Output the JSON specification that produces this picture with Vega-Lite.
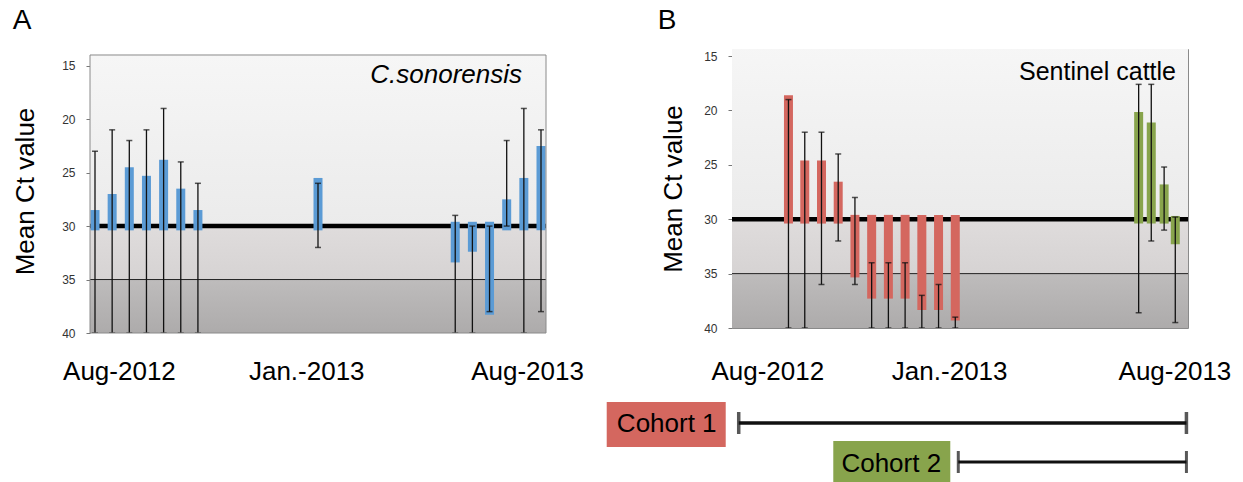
{
  "$schema": "https://vega.github.io/schema/vega-lite/v6.json",
  "padding": {"left": 12, "top": 6, "right": 0, "bottom": 0},
  "spacing": 22,
  "align": "none",
  "config": {
    "font": "Liberation Sans",
    "view": {"stroke": "#8a8a8a", "strokeWidth": 1},
    "axis": {"grid": false, "domain": false},
    "title": {"fontSize": 28, "fontWeight": "normal", "anchor": "start", "frame": "bounds", "color": "#000"}
  },
  "datasets": {
    "csonorensis": [
      {"week": 0, "ct": 28.5, "base": 30.4, "lo": 23, "hi": 40},
      {"week": 2, "ct": 27.0, "base": 30.4, "lo": 21, "hi": 40},
      {"week": 4, "ct": 24.5, "base": 30.4, "lo": 22, "hi": 40},
      {"week": 6, "ct": 25.3, "base": 30.4, "lo": 21, "hi": 40},
      {"week": 8, "ct": 23.8, "base": 30.4, "lo": 19, "hi": 40},
      {"week": 10, "ct": 26.5, "base": 30.4, "lo": 24, "hi": 40},
      {"week": 12, "ct": 28.5, "base": 30.4, "lo": 26, "hi": 40},
      {"week": 26, "ct": 25.5, "base": 30.4, "lo": 26, "hi": 32},
      {"week": 42, "ct": 33.4, "base": 29.6, "lo": 29, "hi": 40},
      {"week": 44, "ct": 32.4, "base": 29.6, "lo": 30, "hi": 40},
      {"week": 46, "ct": 38.3, "base": 29.6, "lo": 30, "hi": 38},
      {"week": 48, "ct": 27.5, "base": 30.4, "lo": 22, "hi": 30},
      {"week": 50, "ct": 25.5, "base": 30.4, "lo": 19, "hi": 40},
      {"week": 52, "ct": 22.5, "base": 30.4, "lo": 21, "hi": 38}
    ],
    "cattle": [
      {"week": 6.0, "ct": 18.6, "base": 30.4, "lo": 19, "hi": 40, "cohort": "Cohort 1"},
      {"week": 7.9, "ct": 24.6, "base": 30.4, "lo": 22, "hi": 40, "cohort": "Cohort 1"},
      {"week": 9.85, "ct": 24.6, "base": 30.4, "lo": 22, "hi": 36, "cohort": "Cohort 1"},
      {"week": 11.8, "ct": 26.55, "base": 30.4, "lo": 24, "hi": 32, "cohort": "Cohort 1"},
      {"week": 13.75, "ct": 35.35, "base": 29.6, "lo": 28, "hi": 36, "cohort": "Cohort 1"},
      {"week": 15.7, "ct": 37.3, "base": 29.6, "lo": 34, "hi": 40, "cohort": "Cohort 1"},
      {"week": 17.65, "ct": 37.3, "base": 29.6, "lo": 34, "hi": 40, "cohort": "Cohort 1"},
      {"week": 19.6, "ct": 37.3, "base": 29.6, "lo": 34, "hi": 40, "cohort": "Cohort 1"},
      {"week": 21.55, "ct": 38.35, "base": 29.6, "lo": 37, "hi": 40, "cohort": "Cohort 1"},
      {"week": 23.5, "ct": 38.35, "base": 29.6, "lo": 36, "hi": 40, "cohort": "Cohort 1"},
      {"week": 25.45, "ct": 39.3, "base": 29.6, "lo": 39, "hi": 40, "cohort": "Cohort 1"},
      {"week": 46.83, "ct": 20.15, "base": 30.4, "lo": 17.6, "hi": 38.6, "cohort": "Cohort 2"},
      {"week": 48.3, "ct": 21.1, "base": 30.4, "lo": 17.6, "hi": 32, "cohort": "Cohort 2"},
      {"week": 49.8, "ct": 26.8, "base": 30.4, "lo": 25.2, "hi": 31, "cohort": "Cohort 2"},
      {"week": 51.1, "ct": 32.3, "base": 29.7, "lo": 29.8, "hi": 39.5, "cohort": "Cohort 2"}
    ],
    "zones": [
      {"zone": "negative", "lo": 14, "hi": 30},
      {"zone": "weak", "lo": 30, "hi": 35},
      {"zone": "strong", "lo": 35, "hi": 40}
    ],
    "cutoffs": [
      {"ct": 30, "kind": "main"},
      {"ct": 35, "kind": "secondary"}
    ],
    "cohorts": [
      {"cohort": "Cohort 1", "start": 0.2, "end": 52.4},
      {"cohort": "Cohort 2", "start": 25.8, "end": 52.4}
    ]
  },
  "hconcat": [
    {
      "width": 456,
      "height": 284,
      "view": {"stroke": null},
      "title": {"text": "A", "offset": 14},
      "layer": [
        {
          "data": {"name": "zones"},
          "transform": [{"filter": "datum.zone == 'negative'"}],
          "mark": {"type": "rect", "clip": true, "color": {"gradient": "linear", "x1": 0, "y1": 0, "x2": 0, "y2": 1, "stops": [{"offset": 0, "color": "#f6f6f6"}, {"offset": 1, "color": "#ebebeb"}]}},
          "encoding": {
            "y": {"field": "lo", "type": "quantitative", "scale": {"domain": [13.44, 40], "reverse": true, "nice": false, "zero": false},
              "axis": {"values": [15, 20, 25, 30, 35, 40], "title": "Mean Ct value", "titleFontSize": 26, "titleFontWeight": "normal", "titleColor": "#000", "titlePadding": 23, "labelFontSize": 12, "labelColor": "#333", "labelPadding": 11, "tickSize": 4, "tickColor": "#777"}},
            "y2": {"field": "hi"}
          }
        },
        {
          "data": {"name": "zones"},
          "transform": [{"filter": "datum.zone == 'weak'"}],
          "mark": {"type": "rect", "clip": true, "color": {"gradient": "linear", "x1": 0, "y1": 0, "x2": 0, "y2": 1, "stops": [{"offset": 0, "color": "#dfdcdc"}, {"offset": 1, "color": "#d6d3d3"}]}},
          "encoding": {"y": {"field": "lo", "type": "quantitative", "scale": {"domain": [13.44, 40], "reverse": true, "nice": false, "zero": false}}, "y2": {"field": "hi"}}
        },
        {
          "data": {"name": "zones"},
          "transform": [{"filter": "datum.zone == 'strong'"}],
          "mark": {"type": "rect", "clip": true, "color": {"gradient": "linear", "x1": 0, "y1": 0, "x2": 0, "y2": 1, "stops": [{"offset": 0, "color": "#bebcbc"}, {"offset": 1, "color": "#adabab"}]}},
          "encoding": {"y": {"field": "lo", "type": "quantitative", "scale": {"domain": [13.44, 40], "reverse": true, "nice": false, "zero": false}}, "y2": {"field": "hi"}}
        },
        {
          "data": {"name": "cutoffs"},
          "transform": [{"filter": "datum.kind == 'main'"}],
          "mark": {"type": "rule", "color": "#000", "strokeWidth": 4.5},
          "encoding": {"y": {"field": "ct", "type": "quantitative", "scale": {"domain": [13.44, 40], "reverse": true, "nice": false, "zero": false}}}
        },
        {
          "data": {"name": "cutoffs"},
          "transform": [{"filter": "datum.kind == 'secondary'"}],
          "mark": {"type": "rule", "color": "#222", "strokeWidth": 1},
          "encoding": {"y": {"field": "ct", "type": "quantitative", "scale": {"domain": [13.44, 40], "reverse": true, "nice": false, "zero": false}}}
        },
        {
          "data": {"name": "csonorensis"},
          "mark": {"type": "bar", "clip": true, "size": 9, "color": "#5b9bd5"},
          "encoding": {
            "x": {"field": "week", "type": "quantitative", "scale": {"domain": [0, 52], "nice": false, "zero": false},
              "axis": {"values": [2.79, 24.63, 50.37], "labelExpr": "datum.value < 10 ? 'Aug-2012' : datum.value < 40 ? 'Jan.-2013' : 'Aug-2013'", "ticks": false, "labelFontSize": 26, "labelColor": "#000", "labelPadding": 25, "title": null, "labelBound": false, "labelOverlap": false, "labelFlush": false}},
            "y": {"field": "ct", "type": "quantitative", "scale": {"domain": [13.44, 40], "reverse": true, "nice": false, "zero": false}},
            "y2": {"field": "base"}
          }
        },
        {
          "data": {"name": "csonorensis"},
          "mark": {"type": "rule", "clip": true, "color": "#111", "strokeWidth": 1.3},
          "encoding": {
            "x": {"field": "week", "type": "quantitative", "scale": {"domain": [0, 52], "nice": false, "zero": false}},
            "y": {"field": "lo", "type": "quantitative", "scale": {"domain": [13.44, 40], "reverse": true, "nice": false, "zero": false}},
            "y2": {"field": "hi"}
          }
        },
        {
          "data": {"name": "csonorensis"},
          "mark": {"type": "tick", "orient": "horizontal", "clip": true, "color": "#111", "size": 6, "thickness": 1.5},
          "encoding": {
            "x": {"field": "week", "type": "quantitative", "scale": {"domain": [0, 52], "nice": false, "zero": false}},
            "y": {"field": "lo", "type": "quantitative", "scale": {"domain": [13.44, 40], "reverse": true, "nice": false, "zero": false}}
          }
        },
        {
          "data": {"name": "csonorensis"},
          "mark": {"type": "tick", "orient": "horizontal", "clip": true, "color": "#111", "size": 6, "thickness": 1.5},
          "encoding": {
            "x": {"field": "week", "type": "quantitative", "scale": {"domain": [0, 52], "nice": false, "zero": false}},
            "y": {"field": "hi", "type": "quantitative", "scale": {"domain": [13.44, 40], "reverse": true, "nice": false, "zero": false}}
          }
        },
        {
          "data": {"name": "zones"},
          "transform": [{"aggregate": [{"op": "min", "field": "lo", "as": "top"}, {"op": "max", "field": "hi", "as": "bottom"}]}],
          "mark": {"type": "rect", "filled": false, "stroke": "#8a8a8a", "strokeWidth": 1},
          "encoding": {
            "y": {"field": "top", "type": "quantitative", "scale": {"domain": [13.44, 40], "reverse": true, "nice": false, "zero": false}},
            "y2": {"field": "bottom"}
          }
        },
        {
          "data": {"values": [{"species": "C.sonorensis"}]},
          "mark": {"type": "text", "align": "right", "baseline": "middle", "fontSize": 26, "fontStyle": "italic", "color": "#000", "dx": -19, "dy": 20},
          "encoding": {
            "text": {"field": "species"},
            "x": {"datum": 52, "type": "quantitative", "scale": {"domain": [0, 52], "nice": false, "zero": false}},
            "y": {"datum": 14, "type": "quantitative", "scale": {"domain": [13.44, 40], "reverse": true, "nice": false, "zero": false}}
          }
        }
      ]
    },
    {
      "width": 456,
      "height": 279,
      "title": {"text": "B", "offset": 14, "dx": 51},
      "layer": [
        {
          "data": {"name": "zones"},
          "transform": [{"filter": "datum.zone == 'negative'"}],
          "mark": {"type": "rect", "clip": true, "color": {"gradient": "linear", "x1": 0, "y1": 0, "x2": 0, "y2": 1, "stops": [{"offset": 0, "color": "#f6f6f6"}, {"offset": 1, "color": "#ebebeb"}]}},
          "encoding": {
            "y": {"field": "lo", "type": "quantitative", "scale": {"domain": [14.35, 40], "reverse": true, "nice": false, "zero": false},
              "axis": {"values": [15, 20, 25, 30, 35, 40], "title": "Mean Ct value", "titleFontSize": 26, "titleFontWeight": "normal", "titleColor": "#000", "titlePadding": 17, "labelFontSize": 12, "labelColor": "#333", "labelPadding": 11, "tickSize": 4, "tickColor": "#777"}},
            "y2": {"field": "hi"}
          }
        },
        {
          "data": {"name": "zones"},
          "transform": [{"filter": "datum.zone == 'weak'"}],
          "mark": {"type": "rect", "clip": true, "color": {"gradient": "linear", "x1": 0, "y1": 0, "x2": 0, "y2": 1, "stops": [{"offset": 0, "color": "#dfdcdc"}, {"offset": 1, "color": "#d6d3d3"}]}},
          "encoding": {"y": {"field": "lo", "type": "quantitative", "scale": {"domain": [14.35, 40], "reverse": true, "nice": false, "zero": false}}, "y2": {"field": "hi"}}
        },
        {
          "data": {"name": "zones"},
          "transform": [{"filter": "datum.zone == 'strong'"}],
          "mark": {"type": "rect", "clip": true, "color": {"gradient": "linear", "x1": 0, "y1": 0, "x2": 0, "y2": 1, "stops": [{"offset": 0, "color": "#bebcbc"}, {"offset": 1, "color": "#adabab"}]}},
          "encoding": {"y": {"field": "lo", "type": "quantitative", "scale": {"domain": [14.35, 40], "reverse": true, "nice": false, "zero": false}}, "y2": {"field": "hi"}}
        },
        {
          "data": {"name": "cutoffs"},
          "transform": [{"filter": "datum.kind == 'main'"}],
          "mark": {"type": "rule", "color": "#000", "strokeWidth": 4.5},
          "encoding": {"y": {"field": "ct", "type": "quantitative", "scale": {"domain": [14.35, 40], "reverse": true, "nice": false, "zero": false}}}
        },
        {
          "data": {"name": "cutoffs"},
          "transform": [{"filter": "datum.kind == 'secondary'"}],
          "mark": {"type": "rule", "color": "#222", "strokeWidth": 1},
          "encoding": {"y": {"field": "ct", "type": "quantitative", "scale": {"domain": [14.35, 40], "reverse": true, "nice": false, "zero": false}}}
        },
        {
          "data": {"name": "cattle"},
          "mark": {"type": "bar", "clip": true, "size": 9},
          "encoding": {
            "x": {"field": "week", "type": "quantitative", "scale": {"domain": [0, 52], "nice": false, "zero": false},
              "axis": {"values": [3.53, 24.74, 51.0], "labelExpr": "datum.value < 10 ? 'Aug-2012' : datum.value < 40 ? 'Jan.-2013' : 'Aug-2013'", "ticks": false, "labelFontSize": 26, "labelColor": "#000", "labelPadding": 30, "title": null, "labelBound": false, "labelOverlap": false, "labelFlush": false}},
            "y": {"field": "ct", "type": "quantitative", "scale": {"domain": [14.35, 40], "reverse": true, "nice": false, "zero": false}},
            "y2": {"field": "base"},
            "color": {"field": "cohort", "type": "nominal", "scale": {"domain": ["Cohort 1", "Cohort 2"], "range": ["#d4675f", "#88a44c"]}, "legend": null}
          }
        },
        {
          "data": {"name": "cattle"},
          "mark": {"type": "rule", "clip": true, "color": "#111", "strokeWidth": 1.3},
          "encoding": {
            "x": {"field": "week", "type": "quantitative", "scale": {"domain": [0, 52], "nice": false, "zero": false}},
            "y": {"field": "lo", "type": "quantitative", "scale": {"domain": [14.35, 40], "reverse": true, "nice": false, "zero": false}},
            "y2": {"field": "hi"}
          }
        },
        {
          "data": {"name": "cattle"},
          "mark": {"type": "tick", "orient": "horizontal", "clip": true, "color": "#111", "size": 6, "thickness": 1.5},
          "encoding": {
            "x": {"field": "week", "type": "quantitative", "scale": {"domain": [0, 52], "nice": false, "zero": false}},
            "y": {"field": "lo", "type": "quantitative", "scale": {"domain": [14.35, 40], "reverse": true, "nice": false, "zero": false}}
          }
        },
        {
          "data": {"name": "cattle"},
          "mark": {"type": "tick", "orient": "horizontal", "clip": true, "color": "#111", "size": 6, "thickness": 1.5},
          "encoding": {
            "x": {"field": "week", "type": "quantitative", "scale": {"domain": [0, 52], "nice": false, "zero": false}},
            "y": {"field": "hi", "type": "quantitative", "scale": {"domain": [14.35, 40], "reverse": true, "nice": false, "zero": false}}
          }
        },
        {
          "data": {"values": [{"host": "Sentinel cattle"}]},
          "mark": {"type": "text", "align": "right", "baseline": "middle", "fontSize": 25, "color": "#000", "dx": -7, "dy": 23},
          "encoding": {
            "text": {"field": "host"},
            "x": {"datum": 52, "type": "quantitative", "scale": {"domain": [0, 52], "nice": false, "zero": false}},
            "y": {"datum": 14.35, "type": "quantitative", "scale": {"domain": [14.35, 40], "reverse": true, "nice": false, "zero": false}}
          }
        },
        {
          "data": {"name": "cohorts"},
          "transform": [{"filter": "datum.cohort == 'Cohort 1'"}],
          "mark": {"type": "rect", "xOffset": -132, "x2Offset": -13, "yOffset": 74, "y2Offset": 119},
          "encoding": {
            "x": {"field": "start", "type": "quantitative", "scale": {"domain": [0, 52], "nice": false, "zero": false}},
            "x2": {"field": "start"},
            "y": {"datum": 40, "type": "quantitative", "scale": {"domain": [14.35, 40], "reverse": true, "nice": false, "zero": false}},
            "y2": {"datum": 40},
            "color": {"field": "cohort", "type": "nominal", "scale": {"domain": ["Cohort 1", "Cohort 2"], "range": ["#d4675f", "#88a44c"]}, "legend": null}
          }
        },
        {
          "data": {"name": "cohorts"},
          "transform": [{"filter": "datum.cohort == 'Cohort 2'"}],
          "mark": {"type": "rect", "xOffset": -125, "x2Offset": -8, "yOffset": 113, "y2Offset": 158},
          "encoding": {
            "x": {"field": "start", "type": "quantitative", "scale": {"domain": [0, 52], "nice": false, "zero": false}},
            "x2": {"field": "start"},
            "y": {"datum": 40, "type": "quantitative", "scale": {"domain": [14.35, 40], "reverse": true, "nice": false, "zero": false}},
            "y2": {"datum": 40},
            "color": {"field": "cohort", "type": "nominal", "scale": {"domain": ["Cohort 1", "Cohort 2"], "range": ["#d4675f", "#88a44c"]}, "legend": null}
          }
        },
        {
          "data": {"name": "cohorts"},
          "transform": [{"filter": "datum.cohort == 'Cohort 1'"}],
          "mark": {"type": "text", "align": "center", "baseline": "middle", "fontSize": 26, "color": "#000", "dx": -72, "dy": 96},
          "encoding": {
            "text": {"field": "cohort"},
            "x": {"field": "start", "type": "quantitative", "scale": {"domain": [0, 52], "nice": false, "zero": false}},
            "y": {"datum": 40, "type": "quantitative", "scale": {"domain": [14.35, 40], "reverse": true, "nice": false, "zero": false}}
          }
        },
        {
          "data": {"name": "cohorts"},
          "transform": [{"filter": "datum.cohort == 'Cohort 2'"}],
          "mark": {"type": "text", "align": "center", "baseline": "middle", "fontSize": 26, "color": "#000", "dx": -67, "dy": 136},
          "encoding": {
            "text": {"field": "cohort"},
            "x": {"field": "start", "type": "quantitative", "scale": {"domain": [0, 52], "nice": false, "zero": false}},
            "y": {"datum": 40, "type": "quantitative", "scale": {"domain": [14.35, 40], "reverse": true, "nice": false, "zero": false}}
          }
        },
        {
          "data": {"name": "cohorts"},
          "transform": [{"filter": "datum.cohort == 'Cohort 1'"}],
          "mark": {"type": "rule", "color": "#111", "strokeWidth": 3.5, "yOffset": 95},
          "encoding": {
            "x": {"field": "start", "type": "quantitative", "scale": {"domain": [0, 52], "nice": false, "zero": false}},
            "x2": {"field": "end"},
            "y": {"datum": 40, "type": "quantitative", "scale": {"domain": [14.35, 40], "reverse": true, "nice": false, "zero": false}}
          }
        },
        {
          "data": {"name": "cohorts"},
          "transform": [{"filter": "datum.cohort == 'Cohort 2'"}],
          "mark": {"type": "rule", "color": "#111", "strokeWidth": 3, "yOffset": 134},
          "encoding": {
            "x": {"field": "start", "type": "quantitative", "scale": {"domain": [0, 52], "nice": false, "zero": false}},
            "x2": {"field": "end"},
            "y": {"datum": 40, "type": "quantitative", "scale": {"domain": [14.35, 40], "reverse": true, "nice": false, "zero": false}}
          }
        },
        {
          "data": {"name": "cohorts"},
          "transform": [{"fold": ["start", "end"], "as": ["edge", "pos"]}, {"filter": "datum.cohort == 'Cohort 1'"}],
          "mark": {"type": "tick", "orient": "vertical", "color": "#111", "size": 22, "thickness": 3.5, "yOffset": 95},
          "encoding": {
            "x": {"field": "pos", "type": "quantitative", "scale": {"domain": [0, 52], "nice": false, "zero": false}},
            "y": {"datum": 40, "type": "quantitative", "scale": {"domain": [14.35, 40], "reverse": true, "nice": false, "zero": false}}
          }
        },
        {
          "data": {"name": "cohorts"},
          "transform": [{"fold": ["start", "end"], "as": ["edge", "pos"]}, {"filter": "datum.cohort == 'Cohort 2'"}],
          "mark": {"type": "tick", "orient": "vertical", "color": "#111", "size": 22, "thickness": 3, "yOffset": 134},
          "encoding": {
            "x": {"field": "pos", "type": "quantitative", "scale": {"domain": [0, 52], "nice": false, "zero": false}},
            "y": {"datum": 40, "type": "quantitative", "scale": {"domain": [14.35, 40], "reverse": true, "nice": false, "zero": false}}
          }
        }
      ]
    }
  ]
}
